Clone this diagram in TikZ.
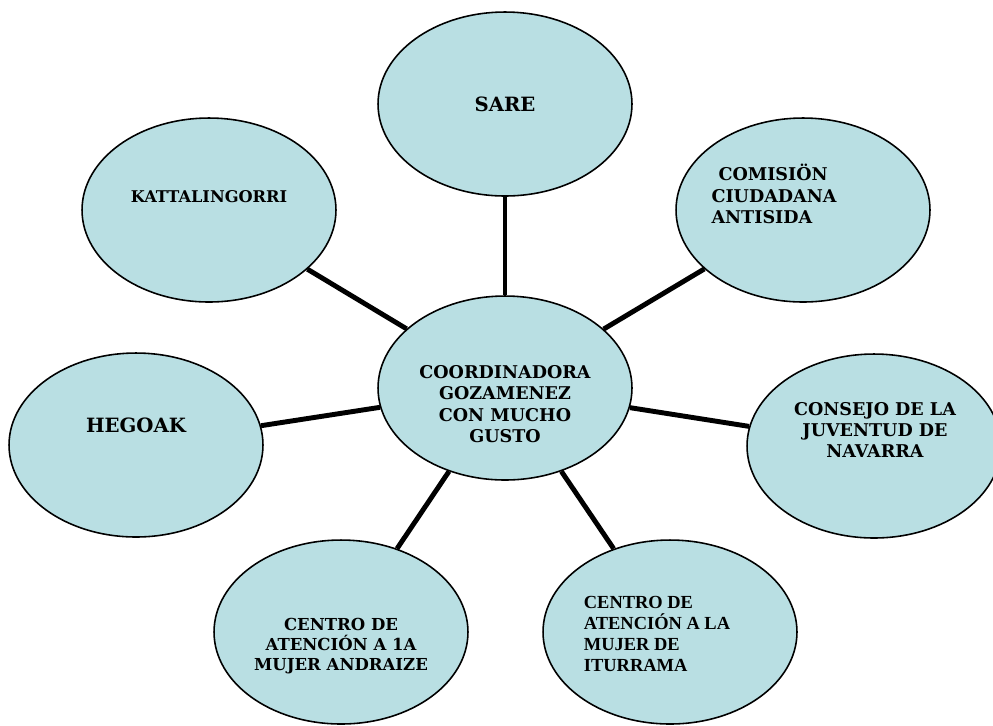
\documentclass[tikz,border=0pt]{standalone}
\usepackage{fontspec}
\setmainfont{DejaVu Serif}
\newfontfamily\timesfont{Liberation Serif}
\usetikzlibrary{shapes.geometric}
\definecolor{orgfill}{RGB}{185,223,227}

\begin{document}
\begin{tikzpicture}[x=0.02cm,y=-0.02cm,
  org/.style={ellipse,draw,line width=0.9pt,fill=orgfill,minimum width=5.08cm,minimum height=3.68cm,inner sep=0pt},
  tag/.style={font=\bfseries\fontsize{10}{12.2}\selectfont,align=center,inner sep=0pt},
  bigtag/.style={tag,font=\bfseries\fontsize{11.2}{13}\selectfont},
  link/.style={line width=2.8pt}]
\useasboundingbox (0,0) rectangle (993,725);
\node (hub) [org,label={[tag,yshift=-0.32cm]center:COORDINADORA\\GOZAMENEZ\\CON MUCHO\\GUSTO}] at (505,388) {};
\node (sare) [org,label={[bigtag]center:SARE}] at (505,104) {};
\node (kattalin) [org,label={[tag,font=\bfseries\fontsize{9.2}{11}\selectfont,yshift=0.26cm]center:KATTALINGORRI}] at (209,210) {};
\node (comision) [org,label={[tag,align=left,xshift=-0.58cm,yshift=0.32cm]center:\hspace*{0.14cm}COMISIÖN\\CIUDADANA\\ANTISIDA}] at (803,210) {};
\node (hegoak) [org,label={[bigtag,yshift=0.40cm]center:HEGOAK}] at (136,445) {};
\node (consejo) [org,label={[tag,xshift=0.02cm,yshift=0.32cm]center:CONSEJO DE LA\\JUVENTUD DE\\NAVARRA}] at (874,446) {};
\node (andraize) [org,label={[tag,font=\bfseries\fontsize{9.4}{11.5}\selectfont,yshift=-0.28cm]center:CENTRO DE\\ATENCIÓN A 1A\\MUJER ANDRAIZE}] at (341,632) {};
\node (iturrama) [org,label={[tag,align=left,font=\timesfont\bfseries\fontsize{10.5}{11.9}\selectfont,xshift=-0.26cm,yshift=-0.04cm]center:CENTRO DE\\ATENCIÓN A LA\\MUJER DE\\ITURRAMA}] at (670,632) {};
\draw[link] (hub) -- (sare);
\draw[link] (hub) -- (kattalin);
\draw[link] (hub) -- (comision);
\draw[link] (hub) -- (hegoak);
\draw[link] (hub) -- (consejo);
\draw[link] (hub) -- (andraize);
\draw[link] (hub) -- (iturrama);
\end{tikzpicture}
\end{document}
